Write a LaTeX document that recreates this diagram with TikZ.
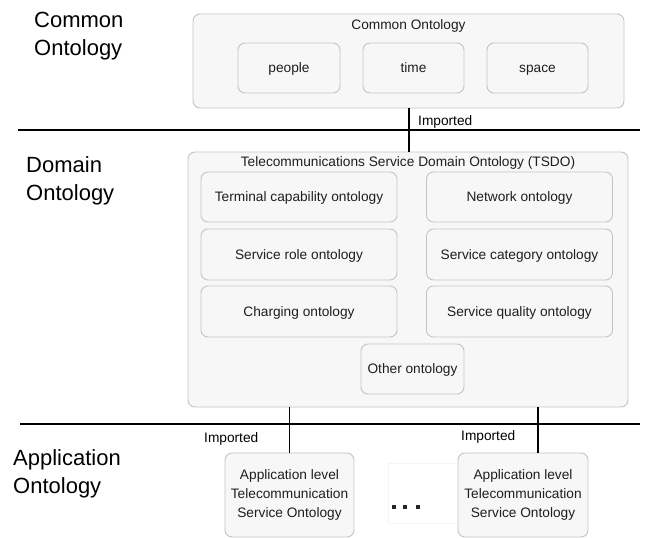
\documentclass[tikz,border=0pt]{standalone}
\usepackage{fontspec}
\setmainfont{Liberation Sans}
\definecolor{boxline}{HTML}{C4C4C4}
\definecolor{boxfill}{HTML}{F7F7F7}
\definecolor{txt}{HTML}{1E1E1E}
\newcommand\smallfnt{\fontsize{13.7}{19}\selectfont}
\newcommand\bigfnt{\fontsize{22}{28}\selectfont}
\begin{document}
\begin{tikzpicture}[x=1pt,y=-1pt,
  box/.style={draw=boxline, fill=boxfill, rounded corners=7pt, line width=0.9pt, inner sep=0pt},
  inbox/.style={box, font=\smallfnt, text=txt, text height=9.8pt, text depth=0pt},
  appbox/.style={box, font=\smallfnt, text=txt, align=center, minimum width=129pt, minimum height=84pt},
  lbl/.style={font=\smallfnt, text=txt, inner sep=0pt},
  biglbl/.style={font=\bigfnt, text=black, align=left, inner sep=0pt},
  conn/.style={line width=1.3pt, black},
  divthin/.style={line width=1.3pt, black},
  divthick/.style={line width=2.7pt, black}]
\useasboundingbox (0,0) rectangle (649,538);

% left labels (base anchor = baseline of last line)
\node[biglbl, anchor=base west] (lcommon) at (34,55) {Common\\Ontology};
\node[biglbl, anchor=base west] (ldomain) at (26,200) {Domain\\Ontology};
\node[biglbl, anchor=base west] (lapp) at (13,493) {Application\\Ontology};

% common ontology
\node[box, minimum width=431pt, minimum height=94pt] (common) at (408.5,61) {};
\node[lbl, anchor=base] (commontitle) at (408.5,29) {Common Ontology};
\node[inbox, minimum width=102pt, minimum height=50pt] (people) at (289,68) {people};
\node[inbox, minimum width=101pt, minimum height=50pt] (time) at (413.5,68) {time};
\node[inbox, minimum width=101pt, minimum height=50pt] (space) at (537.5,68) {space};

% dividing lines
\coordinate (d1a) at (18,130);
\coordinate (d1b) at (640,130);
\draw[divthin] (d1a) -- (d1b);
\coordinate (d2a) at (20,424);
\coordinate (d2b) at (640,424);
\draw[divthick] (d2a) -- (d2b);

% TSDO
\node[box, minimum width=440pt, minimum height=255pt] (tsdo) at (408,279.5) {};
\node[lbl, anchor=base] (tsdotitle) at (408,166) {Telecommunications Service Domain Ontology (TSDO)};
\node[inbox, minimum width=196pt, minimum height=50pt] (terminal) at (299,197) {Terminal capability ontology};
\node[inbox, minimum width=186pt, minimum height=50pt] (network) at (519.5,197) {Network ontology};
\node[inbox, minimum width=196pt, minimum height=51pt] (role) at (299,254.5) {Service role ontology};
\node[inbox, minimum width=186pt, minimum height=51pt] (category) at (519.5,254.5) {Service category ontology};
\node[inbox, minimum width=196pt, minimum height=51pt] (charging) at (299,311.5) {Charging ontology};
\node[inbox, minimum width=186pt, minimum height=51pt] (quality) at (519.5,311.5) {Service quality ontology};
\node[inbox, minimum width=103pt, minimum height=50pt] (other) at (412.5,369) {Other ontology};

% connector common -> TSDO
\draw[conn] (common.south -| 409,0) -- (tsdo.north -| 409,0);
\node[lbl, anchor=base west, text=black] (imp0) at (418,125) {Imported};

% faint placeholder and dots
\draw[draw=black!4, line width=0.6pt] (388,463) rectangle (458,523);
\fill[black!85] (392,505) rectangle +(4,4);
\fill[black!85] (403,505) rectangle +(4,4);
\fill[black!85] (416,505) rectangle +(4,4);

% application boxes
\node[appbox] (app1) at (289.5,495) {Application level\\Telecommunication\\Service Ontology};
\node[appbox, minimum width=130pt] (app2) at (523,495) {Application level\\Telecommunication\\Service Ontology};

\draw[conn] (app1.north |- tsdo.south) -- (app1.north);
\draw[conn] ([xshift=15pt]app2.north |- tsdo.south) -- ([xshift=15pt]app2.north);
\node[lbl, anchor=base west, text=black] (imp1) at (204,442) {Imported};
\node[lbl, anchor=base west, text=black] (imp2) at (461,440) {Imported};
\end{tikzpicture}
\end{document}
